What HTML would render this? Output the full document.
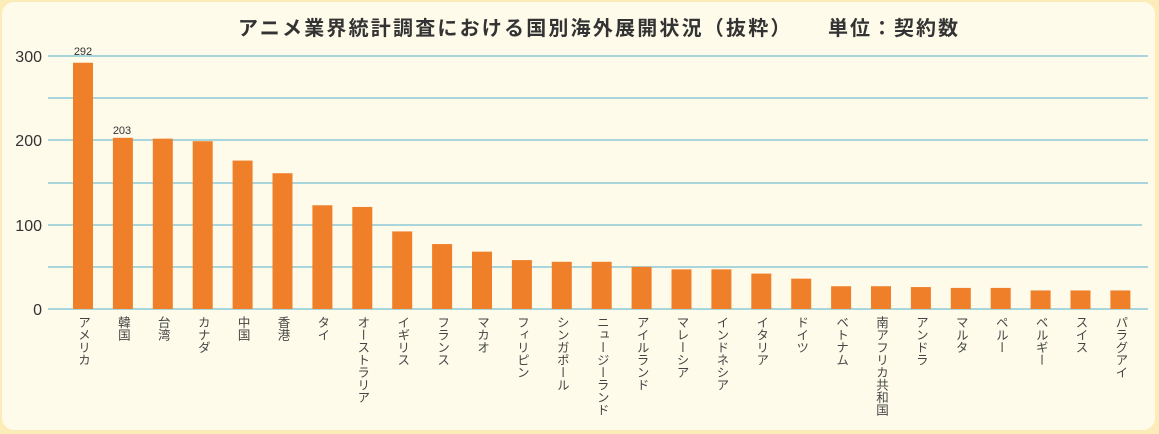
<!DOCTYPE html>
<html><head><meta charset="utf-8"><style>
html,body{margin:0;padding:0;width:1159px;height:434px;overflow:hidden;background:#fbecb8;}
.card{position:absolute;left:2px;top:2px;width:1153px;height:428px;background:#fefbea;border-radius:12px;}
.t{position:absolute;font-family:"Liberation Sans","Noto Sans CJK JP",sans-serif;color:#333;}
.lab{position:absolute;top:316px;writing-mode:vertical-rl;font-family:"Liberation Sans","Noto Sans CJK JP",sans-serif;font-size:12.5px;color:#444;line-height:14px;letter-spacing:0px;}
</style></head><body>
<div class="card"></div>
<div class="t" style="left:238px;top:12px;font-size:20px;font-weight:bold;letter-spacing:2.2px;white-space:nowrap;">アニメ業界統計調査における国別海外展開状況（抜粋）</div>
<div class="t" style="left:828px;top:12px;font-size:20px;font-weight:bold;letter-spacing:2px;white-space:nowrap;">単位：契約数</div>
<svg style="position:absolute;left:0;top:0" width="1159" height="434">
<g stroke="#a9d6dc" stroke-width="2">
<line x1="48" x2="1148" y1="56" y2="56"/><line x1="48" x2="1148" y1="98" y2="98"/>
<line x1="48" x2="1148" y1="140" y2="140"/><line x1="48" x2="1148" y1="183" y2="183"/>
<line x1="48" x2="1142" y1="225" y2="225"/><line x1="48" x2="1148" y1="267" y2="267"/>
<line x1="48" x2="1148" y1="309" y2="309"/>
</g>
<g font-family="Liberation Sans,sans-serif" font-size="16" fill="#333" text-anchor="end">
<text x="42" y="62">300</text><text x="42" y="146">200</text><text x="42" y="231">100</text><text x="42" y="315">0</text>
</g>
<g font-family="Liberation Sans,sans-serif" font-size="11" fill="#333" text-anchor="middle">
<text x="83" y="55">292</text><text x="122" y="134">203</text>
</g>
<g fill="#f07f2a" id="bars"></g>
</svg>
<div id="labs"></div>
<script>
var v=[292,203,202,199,176,161,123,121,92,77,68,58,56,56,50,47,47,42,36,27,27,26,25,25,22,22,22];
var n=["アメリカ","韓国","台湾","カナダ","中国","香港","タイ","オーストラリア","イギリス","フランス","マカオ","フィリピン","シンガポール","ニュージーランド","アイルランド","マレーシア","インドネシア","イタリア","ドイツ","ベトナム","南アフリカ共和国","アンドラ","マルタ","ペルー","ベルギー","スイス","パラグアイ"];
var g=document.getElementById("bars"),h="",l="";
for(var i=0;i<v.length;i++){var x=73+i*39.9,hh=v[i]*0.8433;
h+='<rect x="'+x+'" y="'+(309-hh)+'" width="20" height="'+hh+'"/>';
l+='<div class="lab" style="left:'+(x+3)+'px">'+n[i]+'</div>';}
g.innerHTML=h;document.getElementById("labs").innerHTML=l;
</script>
</body></html>
